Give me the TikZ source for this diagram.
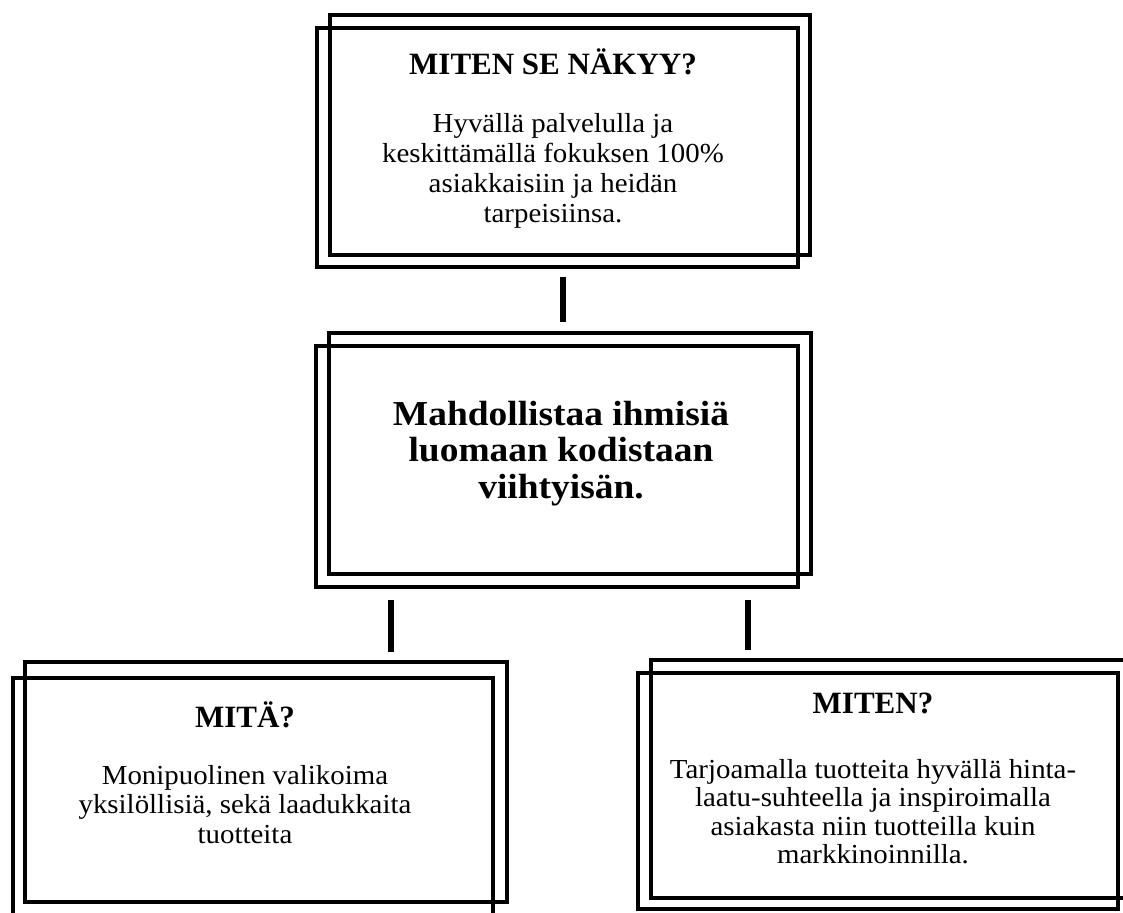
\documentclass[tikz,border=0pt]{standalone}
\usepackage{fontspec}
\setmainfont{Liberation Serif}[FakeStretch=1.05]
\newfontfamily\titlefont{Liberation Serif}
\newfontfamily\midfont{Liberation Serif}[FakeStretch=1.07]
\begin{document}
\begin{tikzpicture}[x=1pt,y=-1pt,
  frame/.style={draw=black, line width=4pt, inner sep=0pt, outer sep=0pt, rectangle},
  conn/.style={draw=black, line width=6.5pt, line cap=butt},
  bodytext/.style={align=center, inner sep=0pt, anchor=north, font=\fontsize{27.5}{30}\selectfont},
  titletext/.style={inner sep=0pt, anchor=base, font=\titlefont\bfseries\fontsize{31}{36}\selectfont},
  midtext/.style={align=center, inner sep=0pt, anchor=north, font=\midfont\bfseries\fontsize{35}{36.5}\selectfont}]
\useasboundingbox (0,0) rectangle (1123,912);
\clip (0,0) rectangle (1123,912);
\fill[white] (0,0) rectangle (1123,912);

% top box
\node[frame, minimum width=480pt, minimum height=240pt] (topB) at (570,135) {};
\node[frame, minimum width=481pt, minimum height=239pt] (topF) at (557.5,147.5) {};
\node[titletext] (topT) at (553,75) {MITEN SE NÄKYY?};
\node[bodytext] (topX) at (553,113) {Hyvällä palvelulla ja\\keskittämällä fokuksen 100\%\\asiakkaisiin ja heidän\\tarpeisiinsa.};

% middle box
\node[frame, minimum width=482pt, minimum height=241pt] (midB) at (570,453.5) {};
\node[frame, minimum width=482pt, minimum height=241pt] (midF) at (557,466.5) {};
\node[midtext] (midX) at (561,401) {Mahdollistaa ihmisiä\\luomaan kodistaan\\viihtyisän.};

% bottom left box
\node[frame, minimum width=482pt, minimum height=240pt] (blB) at (266,782) {};
\node[frame, minimum width=480pt, minimum height=242pt] (blF) at (253,799) {};
\node[titletext] (blT) at (245,727) {MITÄ?};
\node[bodytext, font=\fontsize{27.5}{29.5}\selectfont] (blX) at (245,765) {Monipuolinen valikoima\\yksilöllisiä, sekä laadukkaita\\tuotteita};

% bottom right box
\node[frame, minimum width=484pt, minimum height=238pt] (brB) at (893,779) {};
\node[frame, minimum width=480pt, minimum height=236pt] (brF) at (878,791) {};
\node[titletext] (brT) at (873,713) {MITEN?};
\node[bodytext, font=\fontsize{27.5}{28.5}\selectfont] (brX) at (873,759) {Tarjoamalla tuotteita hyvällä hinta-\\laatu-suhteella ja inspiroimalla\\asiakasta niin tuotteilla kuin\\markkinoinnilla.};

% connectors
\draw[conn] ([xshift=5.5pt,yshift=-10pt]topF.south) -- ([xshift=-7pt,yshift=11pt]midB.north);
\draw[conn] ([xshift=-166pt,yshift=-13pt]midF.south) -- ([xshift=125pt,yshift=10pt]blB.north);
\draw[conn] ([xshift=191pt,yshift=-13pt]midF.south) -- ([xshift=-145pt,yshift=10pt]brB.north);
\end{tikzpicture}
\end{document}
